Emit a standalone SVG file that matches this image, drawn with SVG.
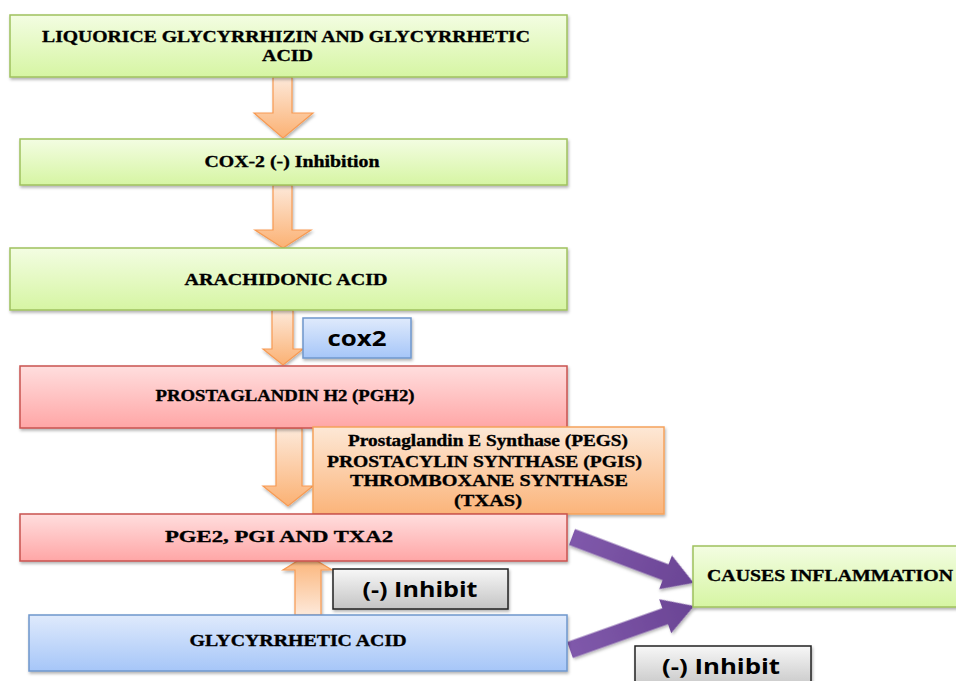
<svg xmlns="http://www.w3.org/2000/svg" width="956" height="681" viewBox="0 0 956 681">
<defs>
<linearGradient id="gGreen" x1="0" y1="0" x2="0" y2="1"><stop offset="0" stop-color="#f3fde2"/><stop offset="1" stop-color="#d6f5a3"/></linearGradient>
<linearGradient id="gPink" x1="0" y1="0" x2="0" y2="1"><stop offset="0" stop-color="#ffdede"/><stop offset="1" stop-color="#ffa6a6"/></linearGradient>
<linearGradient id="gBlue" x1="0" y1="0" x2="0" y2="1"><stop offset="0" stop-color="#dfeafc"/><stop offset="1" stop-color="#a6c6f8"/></linearGradient>
<linearGradient id="gOrange" x1="0" y1="0" x2="0" y2="1"><stop offset="0" stop-color="#fde8d6"/><stop offset="1" stop-color="#fbb47a"/></linearGradient>
<linearGradient id="gGray" x1="0" y1="0" x2="0" y2="1"><stop offset="0" stop-color="#f7f7f7"/><stop offset="1" stop-color="#c4c4c4"/></linearGradient>
<linearGradient id="gArrDown" x1="0" y1="0" x2="0" y2="1"><stop offset="0" stop-color="#fde9da"/><stop offset="1" stop-color="#fbb173"/></linearGradient>
<linearGradient id="gArrUp" x1="0" y1="1" x2="0" y2="0"><stop offset="0" stop-color="#fde9da"/><stop offset="1" stop-color="#fbb173"/></linearGradient>
<linearGradient id="gPurple" x1="0" y1="0" x2="1" y2="0"><stop offset="0" stop-color="#8059ab"/><stop offset="1" stop-color="#6a4494"/></linearGradient>
<filter id="sh" x="-10%" y="-10%" width="120%" height="130%"><feDropShadow dx="1" dy="2" stdDeviation="1.5" flood-color="#000" flood-opacity="0.3"/></filter>
</defs>
<style>
.box{stroke-width:1.5;filter:url(#sh)}
.green{fill:url(#gGreen);stroke:#9fc15e}
.pink{fill:url(#gPink);stroke:#c9534f}
.blue{fill:url(#gBlue);stroke:#6f97cc}
.orange{fill:url(#gOrange);stroke:#f5a25c}
.gray{fill:url(#gGray);stroke:#222}
.t{font-family:"Liberation Serif","Times New Roman",serif;font-weight:bold;font-size:17px;fill:#000;stroke:#000;stroke-width:0.35;text-anchor:middle}
.s{font-family:"Open Sans","Liberation Sans",Arial,sans-serif;font-weight:bold;font-size:22px;fill:#000;text-anchor:middle}
.oa{stroke:#f79a52;stroke-width:1.2;filter:url(#sh)}
.pa{fill:url(#gPurple);filter:url(#sh)}
</style>

<g id="connectors">
<path class="oa" fill="url(#gArrDown)" d="M273,77 H292 V113 H313 L283,138 L254,113 H273 Z"/>
<path class="oa" fill="url(#gArrDown)" d="M273,185 H292 V230 H311 L283,248 L255,230 H273 Z"/>
<path class="oa" fill="url(#gArrDown)" d="M272,310 H293 V349 H303 L283,365 L263,349 H272 Z"/>
<path class="oa" fill="url(#gArrDown)" d="M276,428 H302 V486 H313 L288,506 L263,486 H276 Z"/>
<path class="oa" fill="url(#gArrUp)" d="M295,615 H321 V570 H332 L307,555 L283,570 H295 Z"/>
<path class="pa" transform="translate(572,537) rotate(20.66)" d="M0,-8.5 L100,-8.5 L100,-18 L130,0 L100,18 L100,8.5 L0,8.5 Z"/>
<path class="pa" transform="translate(570,650) rotate(-19.54)" d="M0,-8.5 L101,-8.5 L101,-18 L131.6,0 L101,18 L101,8.5 L0,8.5 Z"/>
</g>

<g id="n1"><rect class="box green" x="10" y="15" width="557" height="62"/>
<text class="t" x="286" y="42" textLength="488" lengthAdjust="spacingAndGlyphs">LIQUORICE GLYCYRRHIZIN AND GLYCYRRHETIC</text>
<text class="t" x="287.5" y="61" textLength="51" lengthAdjust="spacingAndGlyphs">ACID</text></g>

<g id="n2"><rect class="box green" x="20" y="139" width="547" height="46"/>
<text class="t" x="292" y="167" textLength="175" lengthAdjust="spacingAndGlyphs">COX-2 (-) Inhibition</text></g>

<g id="n3"><rect class="box green" x="10" y="248" width="557" height="62"/>
<text class="t" x="286" y="285" textLength="203" lengthAdjust="spacingAndGlyphs">ARACHIDONIC ACID</text></g>

<g id="n-cox2"><rect class="box blue" x="303" y="318" width="108" height="40"/>
<text class="s" x="357" y="346" textLength="59" lengthAdjust="spacingAndGlyphs">cox2</text></g>

<g id="n4"><rect class="box pink" x="20" y="366" width="547" height="62"/>
<text class="t" x="285" y="401" textLength="259" lengthAdjust="spacingAndGlyphs">PROSTAGLANDIN H2 (PGH2)</text></g>

<g id="n-enzymes"><rect class="box orange" x="313" y="427" width="351" height="87"/>
<text class="t" x="488" y="446" textLength="280" lengthAdjust="spacingAndGlyphs">Prostaglandin E Synthase (PEGS)</text>
<text class="t" x="484.5" y="467" textLength="315" lengthAdjust="spacingAndGlyphs">PROSTACYLIN SYNTHASE (PGIS)</text>
<text class="t" x="489" y="486" textLength="278" lengthAdjust="spacingAndGlyphs">THROMBOXANE SYNTHASE</text>
<text class="t" x="488" y="506" textLength="68" lengthAdjust="spacingAndGlyphs">(TXAS)</text></g>

<g id="n5"><rect class="box pink" x="20" y="514" width="547" height="47"/>
<text class="t" x="279" y="542" textLength="228" lengthAdjust="spacingAndGlyphs">PGE2, PGI AND TXA2</text></g>

<g id="n-inhibit1"><rect class="box gray" x="333" y="569" width="175" height="40"/>
<text class="s" x="420" y="597" textLength="115" lengthAdjust="spacingAndGlyphs">(-) Inhibit</text></g>

<g id="n6"><rect class="box blue" x="29" y="615" width="538" height="56"/>
<text class="t" x="298" y="646" textLength="217" lengthAdjust="spacingAndGlyphs">GLYCYRRHETIC ACID</text></g>

<g id="n-inflammation"><rect class="box green" x="693" y="546" width="270" height="61"/>
<text class="t" x="830" y="581" textLength="246" lengthAdjust="spacingAndGlyphs">CAUSES INFLAMMATION</text></g>

<g id="n-inhibit2"><rect class="box gray" x="635" y="646" width="176" height="44"/>
<text class="s" x="721" y="674" textLength="118" lengthAdjust="spacingAndGlyphs">(-) Inhibit</text></g>
</svg>
